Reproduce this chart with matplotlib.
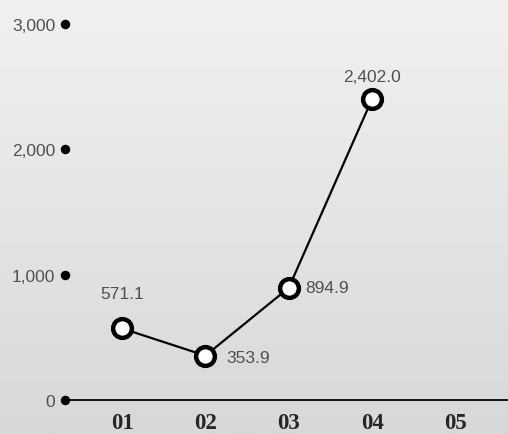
import numpy as np
import matplotlib
matplotlib.use("Agg")
import matplotlib.pyplot as plt
from matplotlib.colors import LinearSegmentedColormap

categories = ["01", "02", "03", "04", "05"]
values = [571.1, 353.9, 894.9, 2402.0]
y_ticks = [0, 1000, 2000, 3000]
y_tick_labels = ["0", "1,000", "2,000", "3,000"]

fig = plt.figure(figsize=(5.08, 4.35), dpi=100)

# vertical gradient background
bg = fig.add_axes([0, 0, 1, 1], zorder=-10)
grad = np.linspace(0, 1, 256).reshape(-1, 1)
cmap = LinearSegmentedColormap.from_list("bg", ["#f1f1f1", "#d7d8da"])
bg.imshow(grad, aspect="auto", cmap=cmap, extent=[0, 1, 0, 1], origin="upper")
bg.axis("off")

ax = fig.add_axes([65 / 508, 34 / 435, 1 - 65 / 508, (401 - 25) / 435])
ax.patch.set_alpha(0)
x = np.arange(len(categories))
ax.set_xlim(-0.684, 4.63)
ax.set_ylim(0, 3000)

for s in ["top", "right", "left"]:
    ax.spines[s].set_visible(False)
ax.spines["bottom"].set_linewidth(1.3)
ax.spines["bottom"].set_color("black")

ax.set_xticks(x)
ax.set_xticklabels(categories, fontfamily="Liberation Serif", fontweight="bold",
                   fontsize=16.5, color="#262626")
ax.tick_params(axis="x", length=0, pad=9)

ax.set_yticks(y_ticks)
ax.set_yticklabels(y_tick_labels, fontsize=12.5, color="#505050",
                   fontfamily="Liberation Sans")
ax.tick_params(axis="y", length=0, pad=7)

# dots on the value axis
ax.scatter([ax.get_xlim()[0]] * len(y_ticks), y_ticks, s=34, color="black",
           clip_on=False, zorder=5)

xv = x[:len(values)]
ax.plot(xv, values, color="black", linewidth=1.6, marker="o", markersize=13.5,
        markerfacecolor="white", markeredgecolor="black", markeredgewidth=3.2,
        zorder=4, clip_on=False)

offsets = [(0, 20, "center", "bottom"), (15, -1, "left", "center"),
           (12, 0, "left", "center"), (0, 11, "center", "bottom")]
for xi, v, (dx, dy, ha, va) in zip(xv, values, offsets):
    ax.annotate(f"{v:,.1f}", (xi, v), xytext=(dx, dy), textcoords="offset points",
                ha=ha, va=va, fontsize=12.5, color="#505050",
                fontfamily="Liberation Sans")

fig.savefig("out.png", dpi=100)
